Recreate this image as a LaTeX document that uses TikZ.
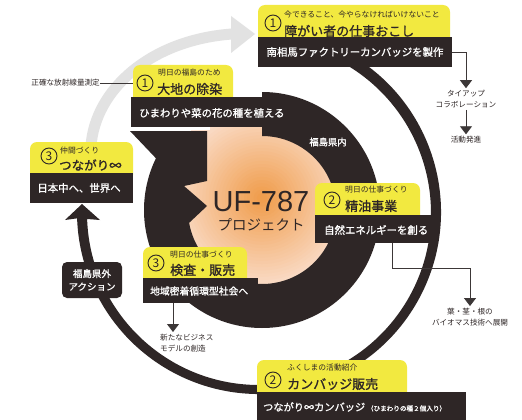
\documentclass[tikz,border=0pt]{standalone}
\usepackage{fontspec}
\setmainfont{Noto Sans CJK JP}
\newfontfamily\jpb[FakeBold=1.2]{Noto Sans CJK JP}
\newfontfamily\ufont{Liberation Sans}
\usetikzlibrary{arrows.meta,calc}
\definecolor{yel}{RGB}{242,233,64}
\definecolor{dk}{RGB}{46,38,38}
\definecolor{gr}{RGB}{226,226,226}
\definecolor{orin}{RGB}{240,158,78}
\definecolor{pale}{RGB}{251,226,212}
\definecolor{ln}{RGB}{60,55,55}
\begin{document}
\begin{tikzpicture}[x=1pt,y=-1pt,
  hdr/.style={fill=yel, rounded corners=7pt, inner sep=0pt, outer sep=0pt, anchor=north west},
  barbox/.style={fill=dk, inner sep=0pt, outer sep=0pt, anchor=north west},
  cnum/.style={circle, draw=dk, line width=0.9pt, minimum size=16pt, inner sep=0pt, font=\fontsize{12}{12}\selectfont, text=dk},
  small/.style={font=\fontsize{7.8}{8}\selectfont, text=dk, inner sep=0pt, anchor=west},
  big/.style={font=\jpb\fontsize{13}{13}\selectfont, text=dk, inner sep=0pt, anchor=west},
  bartext/.style={font=\jpb\fontsize{10.4}{11}\selectfont, text=white, inner sep=0pt},
  side/.style={font=\fontsize{7.6}{10.5}\selectfont, text=dk, inner sep=2pt, align=center},
  conn/.style={draw=ln, line width=0.9pt},
  tip/.style={-{Triangle[width=12pt,length=8pt]}}
]
\useasboundingbox (0,0) rectangle (522,420);
\fill[white] (0,0) rectangle (522,420);

% glow
\foreach \i in {0,...,29}{
  \pgfmathsetmacro{\rr}{98-3.2*\i}
  \pgfmathsetmacro{\pp}{100*\i/29}
  \fill[orin!\pp!pale] (262,198) circle[radius=\rr];
}

% grey arc
\draw[gr, line width=11pt] (91,146) .. controls (95,90) and (150,40) .. (232,34);
\fill[gr] (231,16) -- (255,34) -- (231,53) -- cycle;

% thick band
\fill[dk] (262,92) arc[start angle=-90,end angle=206,radius=118]
  -- (130,131) -- (207,131) -- (207,181) -- (184,186) -- (207,206)
  -- ($(262,210)+(170:74)$) arc[start angle=170,end angle=-90,radius=74] -- cycle;

% outer ring
\fill[dk] ($(259,212)+(-62:182)$) arc[start angle=-62,end angle=178,radius=182]
  -- (65,220) -- (82,204) -- (100,220)
  -- ($(259,213)+(178:172)$) arc[start angle=178,end angle=-62,radius=172] -- cycle;

\draw[white, line width=3pt] (126,128.5) -- (210,128.5);

% box: top right
\node[hdr, minimum width=192pt, minimum height=40pt] (h1) at (258,5) {};
\node[barbox, minimum width=194pt, minimum height=30pt] (b1) at (258,37) {};
\node[cnum] (n1) at (273,23) {1};
\node[small] (s1) at (284,15) {今できること、今やらなければいけないこと};
\node[big] (t1) at (284,31) {障がい者の仕事おこし};
\node[bartext] (bt1) at (355,52) {南相馬ファクトリーカンバッジを製作};
\node[side] (tie) at (466,99) {タイアップ\\コラボレーション};
\node[side] (go) at (466,140) {活動発進};
\draw[conn, tip] (b1.east) -| (tie.north);
\draw[conn, tip] (tie.south) -- (go.north);

% box: daichi
\node[hdr, minimum width=100pt, minimum height=40pt] (h2) at (133,65) {};
\node[barbox, minimum width=131pt, minimum height=30pt] (b2) at (131,97) {};
\node[cnum] (n2) at (145,83) {1};
\node[small] (s2) at (158,73) {明日の福島のため};
\node[big] (t2) at (157,89) {大地の除染};
\node[bartext, anchor=west] (bt2) at (139,113) {ひまわりや菜の花の種を植える};
\node[side, anchor=east, inner sep=0pt] (meas) at (100,83) {正確な放射線量測定};
\draw[conn] (meas.east) -- (meas.east -| h2.west);

% box: tsunagari
\node[hdr, minimum width=103pt, minimum height=40pt] (h3) at (30,142) {};
\node[barbox, minimum width=103pt, minimum height=30pt] (b3) at (30,173) {};
\node[cnum] (n3) at (49,156) {3};
\node[small] (s3) at (60,151) {仲間づくり};
\node[big, font=\jpb\fontsize{12.5}{13}\selectfont] (t3) at (59,165) {つながり∞};
\node[bartext] (bt3) at (79,188) {日本中へ、世界へ};

% box: seiyu
\node[hdr, minimum width=105pt, minimum height=40pt] (h4) at (315,183) {};
\node[barbox, minimum width=120pt, minimum height=28pt] (b4) at (315,215) {};
\node[cnum] (n4) at (332,200) {2};
\node[small] (s4) at (345,190) {明日の仕事づくり};
\node[big] (t4) at (345,206) {精油事業};
\node[bartext, anchor=west] (bt4) at (324,230) {自然エネルギーを創る};
\node[side] (bio) at (470,317) {葉・茎・根の\\バイオマス技術へ展開};
\draw[conn, tip] ([xshift=77pt]b4.south west) -- ++(0,25) -| (bio.north);

% box: kensa
\node[hdr, minimum width=104pt, minimum height=40pt] (h5) at (143,247) {};
\node[barbox, minimum width=115pt, minimum height=25pt] (b5) at (143,278) {};
\node[cnum] (n5) at (156,263) {3};
\node[small] (s5) at (170,255) {明日の仕事づくり};
\node[big] (t5) at (170,270) {検査・販売};
\node[bartext, anchor=west, font=\jpb\fontsize{9.8}{11}\selectfont] (bt5) at (150,291) {地域密着循環型社会へ};
\coordinate (k) at (173,332);
\node[side, anchor=north west, align=left, inner sep=0pt] (biz) at (160,334) {新たなビジネス\\モデルの創造};
\draw[conn, tip] (b5.south -| k) -- (k);

% box: bottom
\node[hdr, minimum width=150pt, minimum height=40pt] (h6) at (257,360) {};
\node[barbox, minimum width=209pt, minimum height=30pt] (b6) at (257,392) {};
\node[cnum] (n6) at (273,380) {2};
\node[small] (s6) at (287,368) {ふくしまの活動紹介};
\node[big] (t6) at (287,384) {カンバッジ販売};
\node[bartext, anchor=west, font=\jpb\fontsize{10.2}{11}\selectfont] (bt6) at (263,407) {つながり∞カンバッジ\,{\fontsize{6.6}{7}\selectfont（ひまわりの種２個入り）}};

% labels
\node[fill=dk, rounded corners=5pt, minimum width=60pt, minimum height=36pt, text=white, font=\jpb\fontsize{9.5}{13}\selectfont, align=center, inner sep=0pt] (out) at (92,280) {福島県外\\アクション};
\node[font=\jpb\fontsize{9.3}{10}\selectfont, text=white, inner sep=0pt] (in) at (328,142) {福島県内};

% center
\node[font=\ufont\fontsize{29}{29}\selectfont, text=dk, inner sep=0pt] (uf) at (261,202) {UF-787};
\node[font=\fontsize{14.5}{15}\selectfont, text=dk, inner sep=0pt] (pj) at (261,225) {プロジェクト};
\end{tikzpicture}
\end{document}
